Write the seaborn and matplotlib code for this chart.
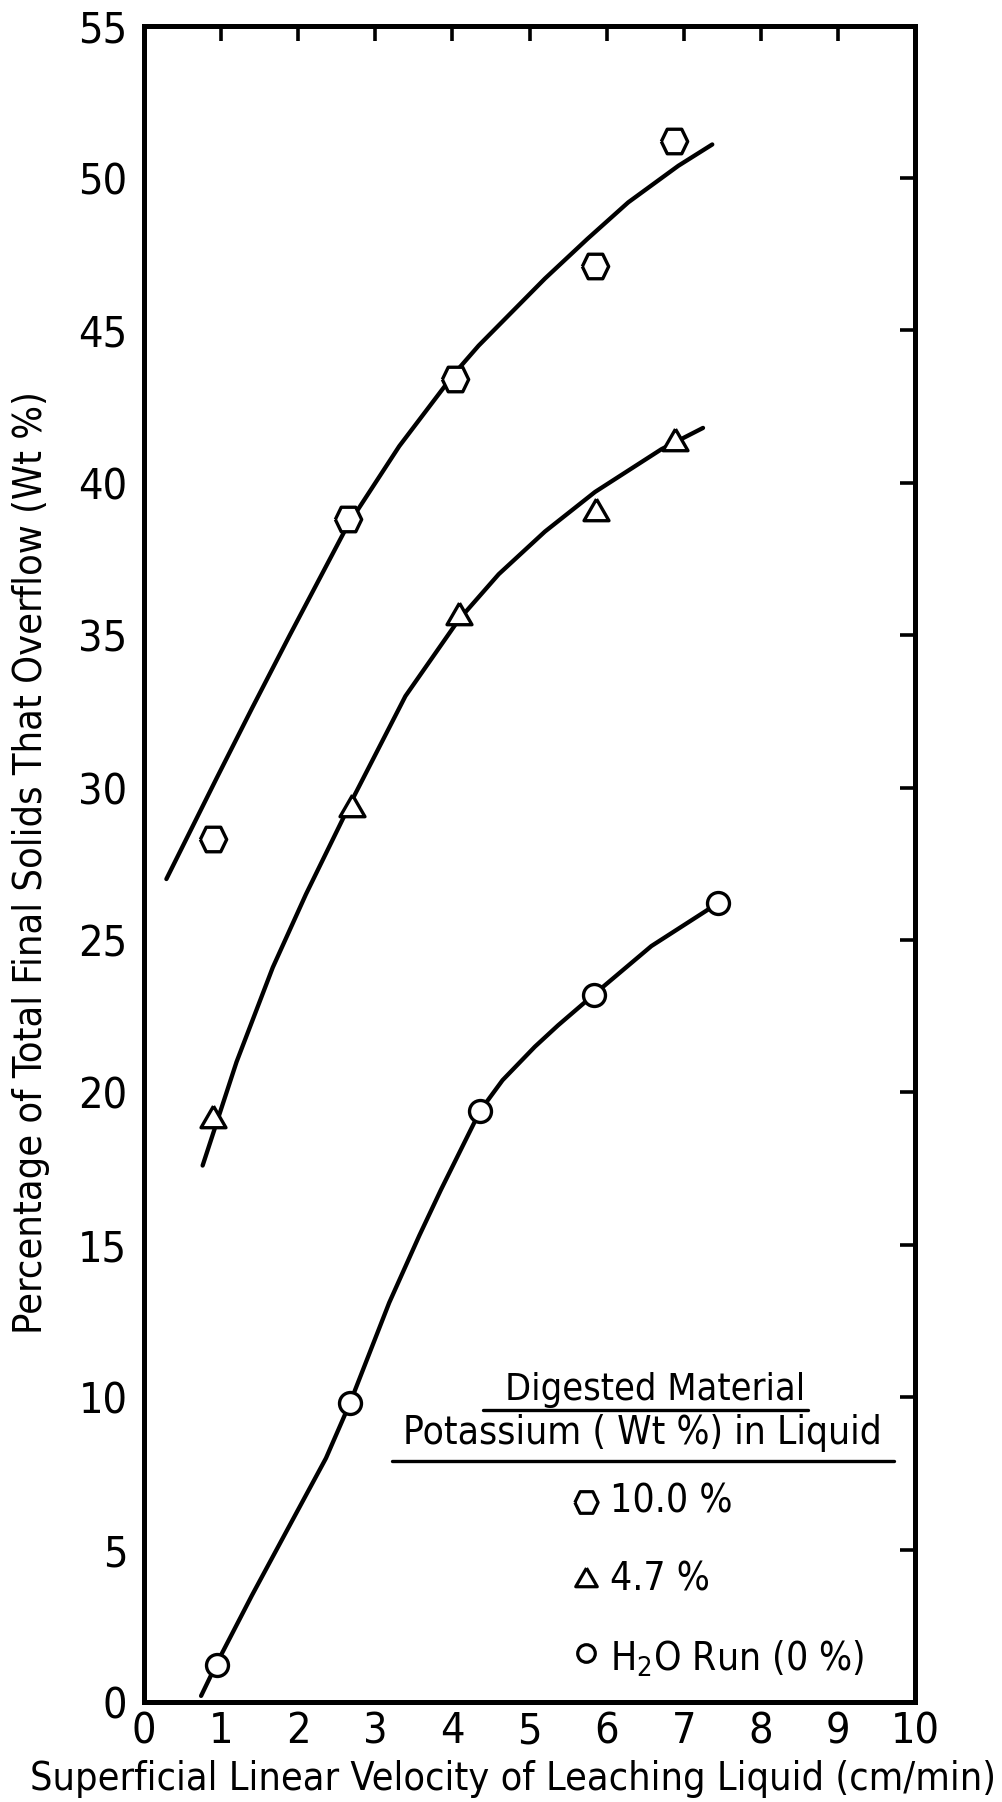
import numpy as np
import pandas as pd
import matplotlib
matplotlib.use("Agg")
import matplotlib.pyplot as plt
from matplotlib import font_manager as fm
import seaborn as sns

# ---------------- data ----------------
hex_x = [0.89, 2.64, 4.03, 5.85, 6.88]
hex_y = [28.3, 38.8, 43.4, 47.1, 51.2]
tri_x = [0.90, 2.70, 4.08, 5.86, 6.89]
tri_y = [19.1, 29.3, 35.6, 39.0, 41.3]
cir_x = [0.95, 2.67, 4.36, 5.83, 7.44]
cir_y = [1.2, 9.8, 19.4, 23.2, 26.2]

hex_curve_x = [0.29, 0.94, 1.40, 1.89, 2.64, 3.31, 4.03, 4.34, 5.20, 5.75, 6.28, 6.93, 7.37]
hex_curve_y = [27.0, 30.3, 32.6, 35.0, 38.6, 41.2, 43.6, 44.5, 46.7, 48.0, 49.2, 50.4, 51.1]
tri_curve_x = [0.76, 1.20, 1.67, 2.10, 2.70, 3.39, 4.08, 4.60, 5.20, 5.85, 6.71, 7.25]
tri_curve_y = [17.6, 21.0, 24.1, 26.5, 29.6, 33.0, 35.5, 37.0, 38.4, 39.7, 41.1, 41.8]
cir_curve_x = [0.74, 0.95, 1.40, 1.89, 2.36, 2.67, 3.18, 3.57, 3.85, 4.36, 4.65, 5.07, 5.37, 5.83, 6.58, 7.44]
cir_curve_y = [0.2, 1.3, 3.5, 5.8, 8.0, 9.8, 13.1, 15.3, 16.8, 19.4, 20.4, 21.5, 22.2, 23.2, 24.8, 26.2]

x_ticks = list(range(0, 11))
y_ticks = list(range(0, 56, 5))

legend_title_1 = "Digested Material"
legend_title_2 = "Potassium ( Wt %) in Liquid"
legend_labels = ["10.0 %", "4.7 %", r"H$_2$O Run (0 %)"]
x_label = "Superficial Linear Velocity of Leaching Liquid (cm/min)"
y_label = "Percentage of Total Final Solids That Overflow (Wt %)"

# ---------------- font: prefer a condensed sans ----------------
sns.set_style("white")
chosen_family, chosen_stretch = "DejaVu Sans", "condensed"
cands = []
for f in fm.fontManager.ttflist:
    nm = f.name.lower()
    fn = f.fname.lower()
    narrow = ("narrow" in nm or "condensed" in nm or "narrow" in fn or "condensed" in fn
              or str(f.stretch) in ("condensed", "semi-condensed", "extra-condensed"))
    if narrow and f.style == "normal" and str(f.weight) in ("400", "normal", "regular", "book"):
        if "liberation" in nm:
            score = 3
        elif "dejavu" in nm and "mono" not in nm and "serif" not in nm:
            score = 2
        elif "serif" not in nm and "mono" not in nm:
            score = 1
        else:
            score = -1
        cands.append((score, f.name, f.stretch))
if cands:
    cands.sort(key=lambda t: -t[0])
    if cands[0][0] >= 0:
        chosen_family, chosen_stretch = cands[0][1], cands[0][2]

plt.rcParams["font.family"] = [chosen_family, "DejaVu Sans"]
plt.rcParams["font.stretch"] = chosen_stretch
plt.rcParams["mathtext.fontset"] = "custom"
plt.rcParams["mathtext.rm"] = chosen_family
plt.rcParams["mathtext.it"] = chosen_family
plt.rcParams["mathtext.bf"] = chosen_family

hex_marker = [(-1, 0), (-0.55, 0.93), (0.55, 0.93), (1, 0), (0.55, -0.93), (-0.55, -0.93), (-1, 0)]
tri_marker = [(0, 0.577), (-0.5, -0.289), (0.5, -0.289), (0, 0.577)]

fig = plt.figure(figsize=(10.03, 18.02), dpi=100)
ax = fig.add_axes([0.1436, 0.0555, 0.7687, 0.9303])

curves = pd.concat([
    pd.DataFrame({"x": hex_curve_x, "y": hex_curve_y, "s": "hex"}),
    pd.DataFrame({"x": tri_curve_x, "y": tri_curve_y, "s": "tri"}),
    pd.DataFrame({"x": cir_curve_x, "y": cir_curve_y, "s": "cir"}),
])
sns.lineplot(data=curves, x="x", y="y", units="s", estimator=None, sort=False,
             color="black", lw=3.1, ax=ax, legend=False, zorder=2)
for ln in ax.get_lines():
    ln.set_solid_joinstyle("round")
    ln.set_solid_capstyle("round")

sns.scatterplot(x=hex_x, y=hex_y, marker=hex_marker, s=360, facecolor="white",
                edgecolor="black", linewidth=2.4, ax=ax, zorder=3)
sns.scatterplot(x=tri_x, y=tri_y, marker=tri_marker, s=430, facecolor="white",
                edgecolor="black", linewidth=2.4, ax=ax, zorder=3)
sns.scatterplot(x=cir_x, y=cir_y, marker="o", s=250, facecolor="white",
                edgecolor="black", linewidth=2.4, ax=ax, zorder=3)

ax.set_xlim(0, 10)
ax.set_ylim(0, 55)
ax.set_xticks(x_ticks)
ax.set_yticks(y_ticks)
ax.set_xticklabels([str(t) for t in x_ticks])
ax.set_yticklabels([str(t) for t in y_ticks])
ax.tick_params(axis="both", direction="in", length=11, width=2.6, color="black",
               top=True, right=True, labelsize=31, labelcolor="black")
ax.tick_params(axis="x", pad=6)
ax.tick_params(axis="y", pad=12)
for sp in ax.spines.values():
    sp.set_visible(True)
    sp.set_linewidth(3.6)
    sp.set_color("black")
ax.set_xlabel("")
ax.set_ylabel("")

t_x = ax.text(0.479, -0.0525, x_label, transform=ax.transAxes, ha="center", va="baseline",
              fontsize=29, color="black")
t_y = ax.text(-0.1466, 0.501, y_label, transform=ax.transAxes, ha="center", va="center",
              rotation=90, fontsize=29, color="black")

# ---------------- legend block ----------------
t_l1 = ax.text(0.663, 0.1799, legend_title_1, transform=ax.transAxes, ha="center",
               va="baseline", fontsize=30, color="black")
ax.plot([0.440, 0.861], [0.1742, 0.1742], transform=ax.transAxes, color="black", lw=2.4,
        clip_on=False)
t_l2 = ax.text(0.647, 0.1537, legend_title_2, transform=ax.transAxes, ha="center",
               va="baseline", fontsize=30, color="black")
ax.plot([0.322, 0.973], [0.1436, 0.1436], transform=ax.transAxes, color="black", lw=2.4,
        clip_on=False)

leg_marker_y = [0.1193, 0.0728, 0.0292]
leg_text_y = [0.1193, 0.0728, 0.0258]
leg_markers = [(hex_marker, 280), (tri_marker, 320), ("o", 160)]
leg_texts = []
for (mk, sz), my, ty, lab in zip(leg_markers, leg_marker_y, leg_text_y, legend_labels):
    ax.scatter([0.573], [my], marker=mk, s=sz, facecolor="white", edgecolor="black",
               linewidth=2.3, transform=ax.transAxes, clip_on=False, zorder=3)
    leg_texts.append(ax.text(0.604, ty, lab, transform=ax.transAxes, ha="left", va="center",
                             fontsize=28, color="black"))

# fit long texts to the widths they occupy in the reference (pixels)
fig.canvas.draw()
renderer = fig.canvas.get_renderer()
def fit(t, target, vertical=False, cap=None):
    bb = t.get_window_extent(renderer)
    w = bb.height if vertical else bb.width
    fs = t.get_fontsize() * target / w
    if cap is not None:
        fs = min(fs, cap)
    t.set_fontsize(fs)
    return fs
fit(t_x, 962, cap=32)
fit(t_y, 940, vertical=True, cap=32)
fit(t_l2, 478, cap=38)
fit(t_l1, 300, cap=38)

fig.savefig("out.png", dpi=100, facecolor="white")
